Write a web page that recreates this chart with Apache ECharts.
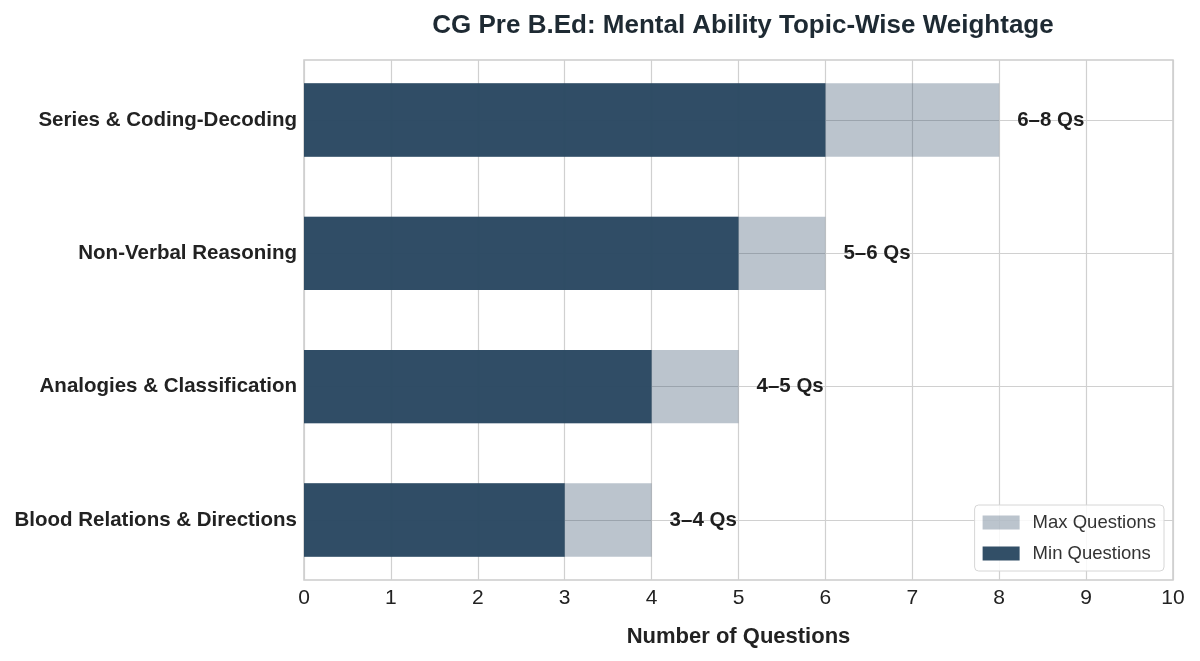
<!DOCTYPE html>
<html>
<head>
<meta charset="utf-8">
<title>CG Pre B.Ed Mental Ability</title>
<script src="https://cdn.jsdelivr.net/npm/echarts@6/dist/echarts.min.js"></script>
<style>
  html, body { margin: 0; padding: 0; background: #fff; }
  #chart { width: 1200px; height: 661px; }
</style>
</head>
<body>
<div id="chart"></div>
<script>
// topics, top to bottom
const topics = [
  "Series & Coding-Decoding",
  "Non-Verbal Reasoning",
  "Analogies & Classification",
  "Blood Relations & Directions"
];
const minQs = [6, 5, 4, 3];
const maxQs = [8, 6, 5, 4];
const xTicks = [0, 1, 2, 3, 4, 5, 6, 7, 8, 9, 10];

const font = "Liberation Sans, Arial, sans-serif";
const navyDark = "rgba(43,73,98,0.97)";
const navyLight = "rgba(43,73,98,0.32)";
const gridColor = "#d0d0d0";

const chart = echarts.init(document.getElementById("chart"), null, { renderer: "canvas" });

const option = {
  animation: false,
  title: {
    text: "CG Pre B.Ed: Mental Ability Topic-Wise Weightage",
    left: 738,
    top: 8,
    textAlign: "center",
    textStyle: { fontFamily: font, fontSize: 26, fontWeight: "bold", color: "#1e2a33" }
  },
  // grid 0 holds the bars (category bands run a bit past the frame, like matplotlib margins)
  // grid 1 is the visible frame with the x ticks
  grid: [
    { left: 304, right: 27, top: 53.3, bottom: 74.3, show: false },
    { left: 304, right: 27, top: 60, bottom: 81,
      show: true, borderColor: "#cccccc", borderWidth: 1.5, backgroundColor: "transparent" }
  ],
  legend: {
    orient: "vertical",
    right: 36,
    bottom: 90,
    data: ["Max Questions", "Min Questions"],
    icon: "rect",
    itemWidth: 37,
    itemHeight: 14,
    itemGap: 12,
    padding: [8, 8, 8, 8],
    borderColor: "#d6d6d6",
    borderWidth: 1,
    borderRadius: 4,
    backgroundColor: "rgba(255,255,255,0.85)",
    textStyle: { fontFamily: font, fontSize: 18.5, color: "#333", padding: [0, 0, 0, 8] }
  },
  xAxis: [
    {
      gridIndex: 0,
      type: "value",
      min: 0,
      max: 10,
      show: false
    },
    {
      gridIndex: 1,
      type: "value",
      min: 0,
      max: 10,
      interval: 1,
      name: "Number of Questions",
      nameLocation: "middle",
      nameGap: 46,
      nameTextStyle: { fontFamily: font, fontSize: 22, fontWeight: "bold", color: "#222" },
      axisLine: { show: false },
      axisTick: { show: false },
      axisLabel: {
        margin: 8,
        fontFamily: font, fontSize: 21, color: "#222",
        formatter: (v) => xTicks.includes(v) ? String(v) : ""
      },
      splitLine: { show: true, lineStyle: { color: gridColor, width: 1.2 } }
    }
  ],
  yAxis: [
    {
      gridIndex: 0,
      type: "category",
      inverse: true,
      data: topics,
      axisLine: { show: false },
      axisTick: { show: false, alignWithLabel: true },
      axisLabel: {
        margin: 7,
        fontFamily: font, fontSize: 20.5, fontWeight: "bold", color: "#222"
      },
      splitLine: { show: true, alignWithLabel: true, lineStyle: { color: gridColor, width: 1.2 } }
    },
    {
      gridIndex: 1,
      type: "value",
      min: 0,
      max: 1,
      show: false
    }
  ],
  series: [
    {
      name: "Max Questions",
      type: "bar",
      xAxisIndex: 0,
      yAxisIndex: 0,
      data: maxQs,
      barWidth: "55%",
      barGap: "-100%",
      z: 1,
      itemStyle: { color: navyLight },
      label: {
        show: true,
        position: "right",
        distance: 18,
        fontFamily: font,
        fontSize: 20.5,
        fontWeight: "bold",
        color: "#1e1e1e",
        formatter: (p) => minQs[p.dataIndex] + "\u2013" + maxQs[p.dataIndex] + " Qs"
      }
    },
    {
      name: "Min Questions",
      type: "bar",
      xAxisIndex: 0,
      yAxisIndex: 0,
      data: minQs,
      barWidth: "55%",
      barGap: "-100%",
      z: 2,
      itemStyle: { color: navyDark }
    }
  ]
};

chart.setOption(option);
window.addEventListener("resize", chart.resize);
</script>
</body>
</html>
